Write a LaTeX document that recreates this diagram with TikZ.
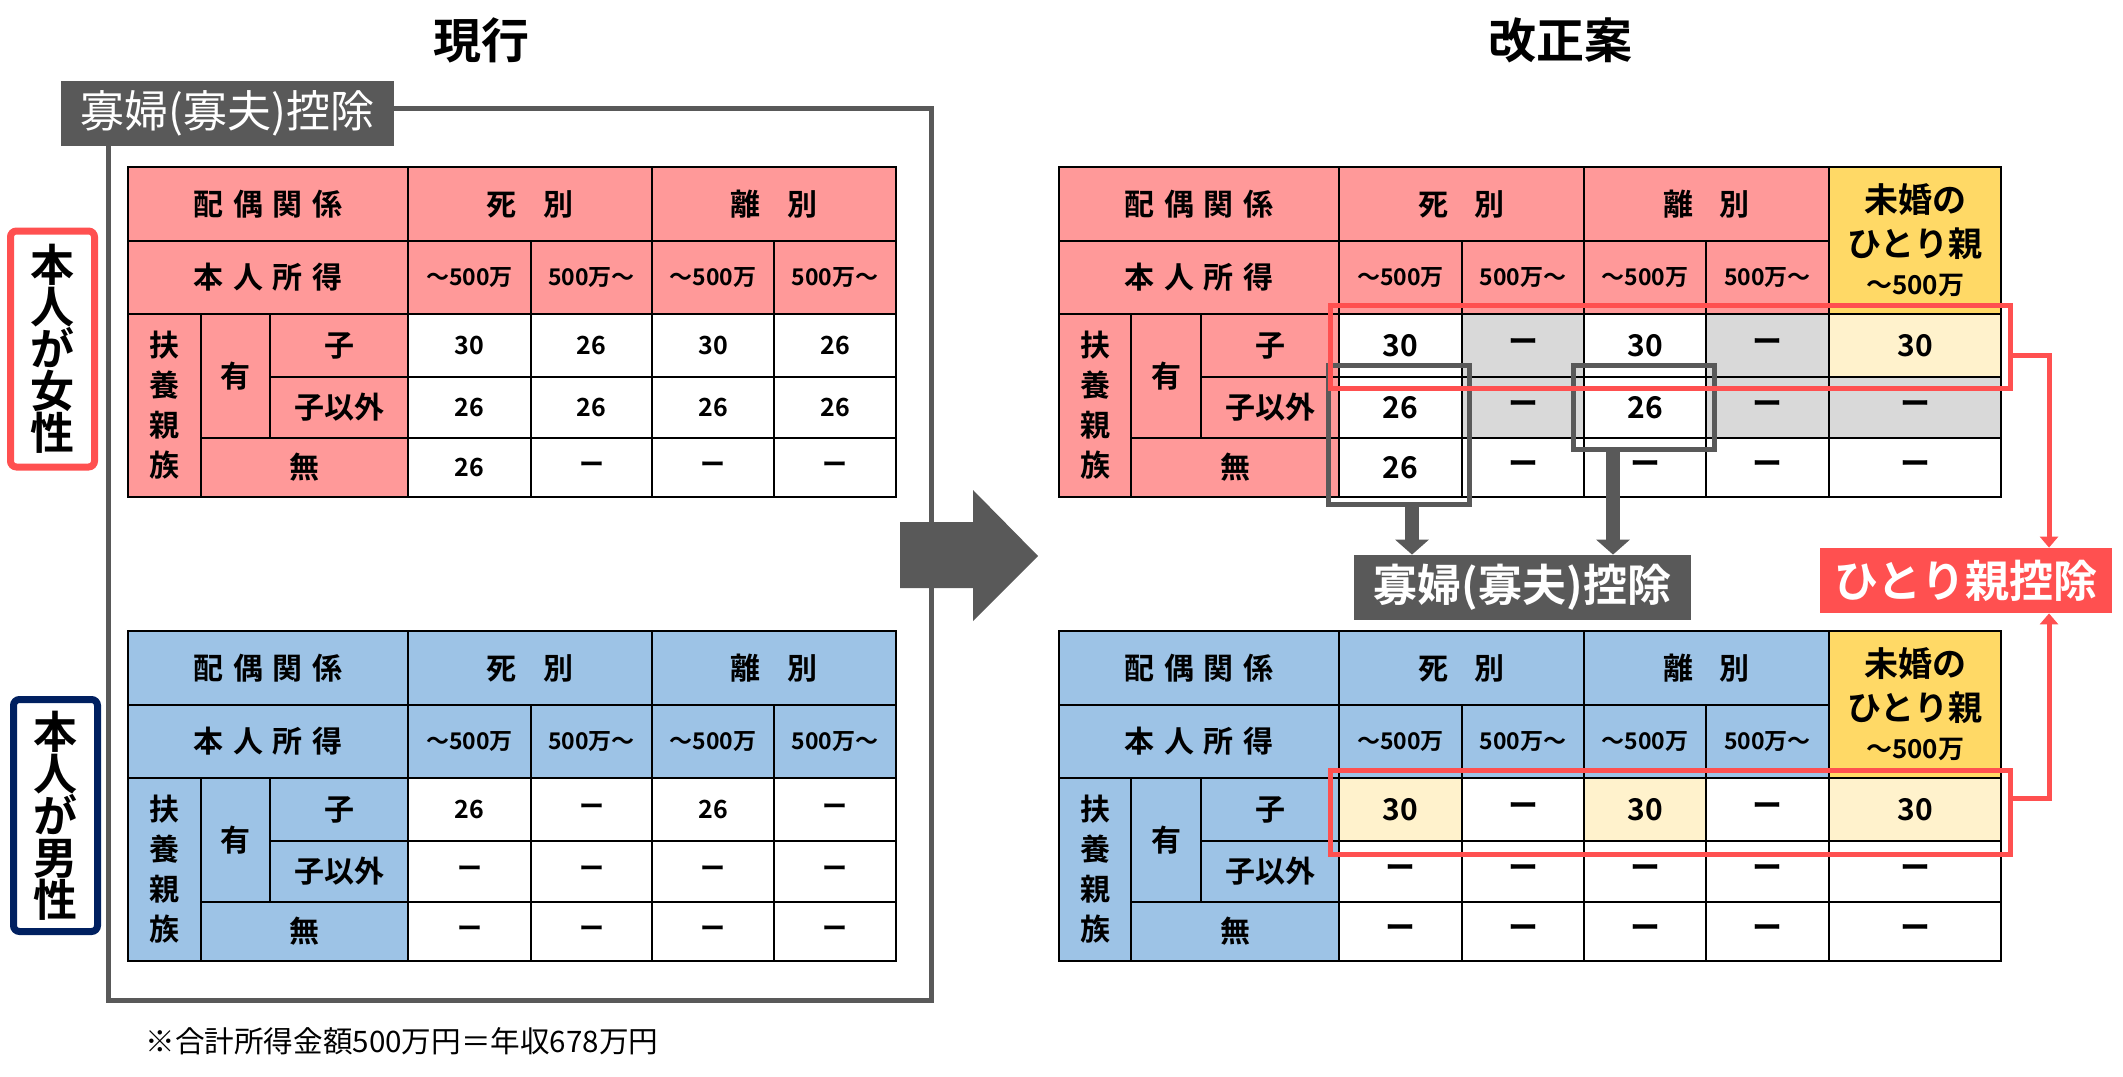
\documentclass[tikz,border=0pt]{standalone}
\usepackage{fontspec}
\setmainfont{Noto Sans CJK JP}[BoldFont={Noto Sans CJK JP Bold}]
\usetikzlibrary{arrows.meta}
\definecolor{pinkH}{HTML}{FF9999}
\definecolor{blueH}{HTML}{9DC3E6}
\definecolor{yellowH}{HTML}{FFD966}
\definecolor{lightY}{HTML}{FFF2CC}
\definecolor{grayC}{HTML}{D9D9D9}
\definecolor{redL}{HTML}{FF5050}
\definecolor{dgray}{HTML}{595959}
\definecolor{navy}{HTML}{002060}
\tikzset{
  tline/.style={draw=black, line width=1.2pt},
  celltext/.style={inner sep=0pt, text=black},
  hdr/.style={font=\bfseries\fontsize{15}{18}\selectfont},
  inc/.style={font=\bfseries\fontsize{11.5}{14}\selectfont},
  vert/.style={align=center, font=\bfseries\fontsize{15}{20}\selectfont},
  numL/.style={font=\bfseries\fontsize{12.5}{15}\selectfont},
  numR/.style={font=\bfseries\fontsize{15}{18}\selectfont},
  yel/.style={align=center, font=\bfseries\fontsize{17}{22}\selectfont},
  gframe/.style={draw=dgray, line width=2.5pt, inner sep=0pt},
  rframe/.style={draw=redL, line width=2.5pt, inner sep=0pt},
  garrow/.style={draw=dgray, line width=7pt, -{Triangle[width=16.5pt,length=7.5pt]}},
  rarrow/.style={draw=redL, line width=2.5pt, -{Triangle[width=9pt,length=5.5pt]}},
  sidebox/.style={fill=white, line width=3.5pt, rounded corners=3pt, inner sep=0pt,
     minimum width=42pt, align=center, font=\bfseries\fontsize{22}{21}\selectfont},
  tag/.style={inner sep=0pt, text=white, minimum height=32.5pt},
  title/.style={font=\bfseries\fontsize{24}{28}\selectfont},
}
\newcommand\gap{\hspace{0.33em}}
\newcommand\cellbox[8][]{%
  \filldraw[tline, fill=#7] (#3,#4) rectangle (#5,#6);
  \node[celltext,#1] (#2) at ({(#3+#5)/2},{(#4+#6)/2}) {#8};}
\newcommand\lefthead[2]{%
  \cellbox[hdr]{#1a}{128}{167}{408}{241}{#2}{配\gap 偶\gap 関\gap 係}
  \cellbox[hdr]{#1b}{408}{167}{652}{241}{#2}{死\hspace{0.9em}別}
  \cellbox[hdr]{#1c}{652}{167}{896}{241}{#2}{離\hspace{0.9em}別}
  \cellbox[hdr]{#1d}{128}{241}{408}{314}{#2}{本\gap 人\gap 所\gap 得}
  \cellbox[inc]{#1e}{408}{241}{531}{314}{#2}{～500万}
  \cellbox[inc]{#1f}{531}{241}{652}{314}{#2}{500万～}
  \cellbox[inc]{#1g}{652}{241}{774}{314}{#2}{～500万}
  \cellbox[inc]{#1h}{774}{241}{896}{314}{#2}{500万～}
  \cellbox[vert]{#1i}{128}{314}{201}{497}{#2}{扶\\養\\親\\族}
  \cellbox[hdr]{#1j}{201}{314}{270}{438}{#2}{有}
  \cellbox[hdr]{#1k}{270}{314}{408}{377}{#2}{子}
  \cellbox[hdr]{#1l}{270}{377}{408}{438}{#2}{子以外}
  \cellbox[hdr]{#1m}{201}{438}{408}{497}{#2}{無}}
\newcommand\righthead[2]{%
  \cellbox[hdr]{#1a}{1059}{167}{1339}{241}{#2}{配\gap 偶\gap 関\gap 係}
  \cellbox[hdr]{#1b}{1339}{167}{1584}{241}{#2}{死\hspace{0.9em}別}
  \cellbox[hdr]{#1c}{1584}{167}{1829}{241}{#2}{離\hspace{0.9em}別}
  \cellbox[yel]{#1n}{1829}{167}{2001}{314}{yellowH}{未婚の\\ひとり親\\[-3pt]{\fontsize{13}{15}\selectfont ～500万}}
  \cellbox[hdr]{#1d}{1059}{241}{1339}{314}{#2}{本\gap 人\gap 所\gap 得}
  \cellbox[inc]{#1e}{1339}{241}{1462}{314}{#2}{～500万}
  \cellbox[inc]{#1f}{1462}{241}{1584}{314}{#2}{500万～}
  \cellbox[inc]{#1g}{1584}{241}{1706}{314}{#2}{～500万}
  \cellbox[inc]{#1h}{1706}{241}{1829}{314}{#2}{500万～}
  \cellbox[vert]{#1i}{1059}{314}{1131}{497}{#2}{扶\\養\\親\\族}
  \cellbox[hdr]{#1j}{1131}{314}{1201}{438}{#2}{有}
  \cellbox[hdr]{#1k}{1201}{314}{1339}{377}{#2}{子}
  \cellbox[hdr]{#1l}{1201}{377}{1339}{438}{#2}{子以外}
  \cellbox[hdr]{#1m}{1131}{438}{1339}{497}{#2}{無}}
\begin{document}
\begin{tikzpicture}[x=0.5pt,y=-0.5pt]
\fill[white] (0,0) rectangle (2123,1076);
\useasboundingbox (0,0) rectangle (2123,1076);

% titles
\node[title] (t1) at (481,40) {現行};
\node[title] (t2) at (1560,40) {改正案};

% big gray frame of the current system
\draw[dgray, line width=2.5pt] (108,108) rectangle (931,1000);
\node[tag, fill=dgray, minimum width=166.5pt, font=\fontsize{22}{24}\selectfont] (gl1) at (227.5,113.5) {寡婦(寡夫)控除};

% side labels
\node[sidebox, draw=redL, minimum height=118pt] (sf) at (52.5,349) {本\\人\\が\\女\\性};
\node[sidebox, draw=navy, minimum height=116pt] (sm) at (55.5,815.5) {本\\人\\が\\男\\性};

% ---------- current, female ----------
\lefthead{fl}{pinkH}
\cellbox[numL]{fl11}{408}{314}{531}{377}{white}{30}
\cellbox[numL]{fl12}{531}{314}{652}{377}{white}{26}
\cellbox[numL]{fl13}{652}{314}{774}{377}{white}{30}
\cellbox[numL]{fl14}{774}{314}{896}{377}{white}{26}
\cellbox[numL]{fl21}{408}{377}{531}{438}{white}{26}
\cellbox[numL]{fl22}{531}{377}{652}{438}{white}{26}
\cellbox[numL]{fl23}{652}{377}{774}{438}{white}{26}
\cellbox[numL]{fl24}{774}{377}{896}{438}{white}{26}
\cellbox[numL]{fl31}{408}{438}{531}{497}{white}{26}
\cellbox[numL]{fl32}{531}{438}{652}{497}{white}{ー}
\cellbox[numL]{fl33}{652}{438}{774}{497}{white}{ー}
\cellbox[numL]{fl34}{774}{438}{896}{497}{white}{ー}

% ---------- current, male ----------
\begin{scope}[yshift=-232pt]
\lefthead{ml}{blueH}
\cellbox[numL]{ml11}{408}{314}{531}{377}{white}{26}
\cellbox[numL]{ml12}{531}{314}{652}{377}{white}{ー}
\cellbox[numL]{ml13}{652}{314}{774}{377}{white}{26}
\cellbox[numL]{ml14}{774}{314}{896}{377}{white}{ー}
\cellbox[numL]{ml21}{408}{377}{531}{438}{white}{ー}
\cellbox[numL]{ml22}{531}{377}{652}{438}{white}{ー}
\cellbox[numL]{ml23}{652}{377}{774}{438}{white}{ー}
\cellbox[numL]{ml24}{774}{377}{896}{438}{white}{ー}
\cellbox[numL]{ml31}{408}{438}{531}{497}{white}{ー}
\cellbox[numL]{ml32}{531}{438}{652}{497}{white}{ー}
\cellbox[numL]{ml33}{652}{438}{774}{497}{white}{ー}
\cellbox[numL]{ml34}{774}{438}{896}{497}{white}{ー}
\end{scope}

% big arrow
\fill[dgray] (900,522) -- (973,522) -- (973,490) -- (1038,556) -- (973,621) -- (973,588) -- (900,588) -- cycle;

% ---------- proposal, female ----------
\righthead{fr}{pinkH}
\cellbox[numR]{fr11}{1339}{314}{1462}{377}{white}{30}
\cellbox[numR]{fr12}{1462}{314}{1584}{377}{grayC}{ー}
\cellbox[numR]{fr13}{1584}{314}{1706}{377}{white}{30}
\cellbox[numR]{fr14}{1706}{314}{1829}{377}{grayC}{ー}
\cellbox[numR]{fr15}{1829}{314}{2001}{377}{lightY}{30}
\cellbox[numR]{fr21}{1339}{377}{1462}{438}{white}{26}
\cellbox[numR]{fr22}{1462}{377}{1584}{438}{grayC}{ー}
\cellbox[numR]{fr23}{1584}{377}{1706}{438}{white}{26}
\cellbox[numR]{fr24}{1706}{377}{1829}{438}{grayC}{ー}
\cellbox[numR]{fr25}{1829}{377}{2001}{438}{grayC}{ー}
\cellbox[numR]{fr31}{1339}{438}{1462}{497}{white}{26}
\cellbox[numR]{fr32}{1462}{438}{1584}{497}{white}{ー}
\cellbox[numR]{fr33}{1584}{438}{1706}{497}{white}{ー}
\cellbox[numR]{fr34}{1706}{438}{1829}{497}{white}{ー}
\cellbox[numR]{fr35}{1829}{438}{2001}{497}{white}{ー}

% ---------- proposal, male ----------
\begin{scope}[yshift=-232pt]
\righthead{mr}{blueH}
\cellbox[numR]{mr11}{1339}{314}{1462}{377}{lightY}{30}
\cellbox[numR]{mr12}{1462}{314}{1584}{377}{white}{ー}
\cellbox[numR]{mr13}{1584}{314}{1706}{377}{lightY}{30}
\cellbox[numR]{mr14}{1706}{314}{1829}{377}{white}{ー}
\cellbox[numR]{mr15}{1829}{314}{2001}{377}{lightY}{30}
\cellbox[numR]{mr21}{1339}{377}{1462}{438}{white}{ー}
\cellbox[numR]{mr22}{1462}{377}{1584}{438}{white}{ー}
\cellbox[numR]{mr23}{1584}{377}{1706}{438}{white}{ー}
\cellbox[numR]{mr24}{1706}{377}{1829}{438}{white}{ー}
\cellbox[numR]{mr25}{1829}{377}{2001}{438}{white}{ー}
\cellbox[numR]{mr31}{1339}{438}{1462}{497}{white}{ー}
\cellbox[numR]{mr32}{1462}{438}{1584}{497}{white}{ー}
\cellbox[numR]{mr33}{1584}{438}{1706}{497}{white}{ー}
\cellbox[numR]{mr34}{1706}{438}{1829}{497}{white}{ー}
\cellbox[numR]{mr35}{1829}{438}{2001}{497}{white}{ー}
\end{scope}

% gray frames and widow deduction label
\node[gframe, minimum width=70.5pt, minimum height=69.5pt] (gf1) at (1399,435) {};
\node[gframe, minimum width=70.5pt, minimum height=42pt] (gf2) at (1644,407.5) {};
\node[tag, fill=dgray, minimum width=168.5pt, font=\bfseries\fontsize{22}{24}\selectfont] (gl2) at (1522.5,587.5) {寡婦(寡夫)控除};
\coordinate (ax1) at (1412,0);
\coordinate (ax2) at (1613,0);
\draw[garrow] (gf1.south -| ax1) -- (gl2.north -| ax1);
\draw[garrow] (gf2.south -| ax2) -- (gl2.north -| ax2);

% red frames and single-parent deduction label
\node[rframe, minimum width=340pt, minimum height=41.5pt] (rf1) at (1670.5,347) {};
\node[rframe, minimum width=340pt, minimum height=42pt] (rf2) at (1670.5,812.5) {};
\node[tag, fill=redL, minimum width=146pt, font=\bfseries\fontsize{22}{24}\selectfont] (rl) at (1966,580.5) {ひとり親控除};
\coordinate (rx) at (2049,0);
\draw[rarrow] ([yshift=-4pt]rf1.east) -| (rl.north -| rx);
\draw[rarrow] ([yshift=7.25pt]rf2.east) -| (rl.south -| rx);

% footnote
\node[anchor=west, inner sep=0pt, font=\fontsize{14.8}{16}\selectfont] (fn) at (145,1041) {※合計所得金額500万円＝年収678万円};
\end{tikzpicture}
\end{document}
